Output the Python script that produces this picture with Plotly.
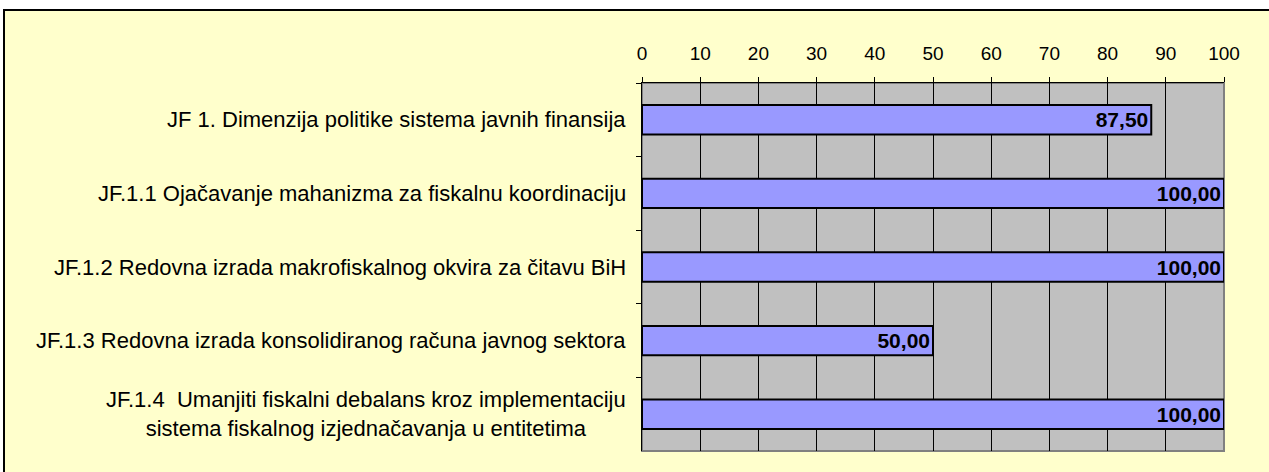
import plotly.graph_objects as go

categories = [
    "JF 1. Dimenzija politike sistema javnih finansija",
    "JF.1.1 Ojačavanje mahanizma za fiskalnu koordinaciju",
    "JF.1.2 Redovna izrada makrofiskalnog okvira za čitavu BiH",
    "JF.1.3 Redovna izrada konsolidiranog računa javnog sektora",
    "JF.1.4  Umanjiti fiskalni debalans kroz implementaciju<br>sistema fiskalnog izjednačavanja u entitetima",
]
values = [87.5, 100.0, 100.0, 50.0, 100.0]
x_ticks = [0, 10, 20, 30, 40, 50, 60, 70, 80, 90, 100]

W, H = 1269, 472
L, R, T, B = 642, 45, 83, 21
pw, ph = W - L - R, H - T - B
FONT = "Liberation Sans, Arial, sans-serif"

def px_x(px):
    return (px - L) / pw

def px_y(py):
    return (H - B - py) / ph

fig = go.Figure()
fig.add_trace(go.Bar(
    y=categories, x=values, orientation="h",
    marker=dict(color="#9999FF", line=dict(color="black", width=2)),
    width=0.4,
    texttemplate="<b>%{x:.2f}</b>",
    textposition="inside", insidetextanchor="end",
    textfont=dict(family=FONT, size=21, color="black"),
    hoverinfo="skip",
))

shapes = [
    dict(type="rect", xref="paper", yref="paper", layer="below",
         x0=px_x(4), x1=px_x(1290), y0=px_y(500), y1=px_y(10),
         fillcolor="#FFFFCC", line=dict(color="black", width=2)),
    dict(type="rect", xref="paper", yref="paper", layer="below",
         x0=0, x1=1, y0=0, y1=1,
         fillcolor="#C0C0C0", line=dict(color="#808080", width=2)),
]

annotations = []
for c in categories:
    annotations.append(dict(
        x=0, xref="paper", y=c, yref="y", xanchor="right", xshift=-14,
        text=c, showarrow=False, align="center",
        font=dict(family=FONT, size=22, color="black"),
    ))

fig.update_layout(
    width=W, height=H,
    margin=dict(l=L, r=R, t=T, b=B, pad=0),
    paper_bgcolor="white", plot_bgcolor="rgba(0,0,0,0)",
    separators=",.",
    showlegend=False,
    shapes=shapes, annotations=annotations,
    xaxis=dict(
        side="top", range=[0, 100], tickvals=x_ticks,
        showgrid=True, gridcolor="black", gridwidth=1,
        showline=True, linecolor="black", linewidth=1,
        ticks="outside", ticklen=5, tickcolor="black",
        ticklabelstandoff=9,
        tickfont=dict(family=FONT, size=19, color="black"),
        zeroline=False, fixedrange=True,
    ),
    yaxis=dict(
        autorange="reversed", type="category",
        showticklabels=False, tickson="boundaries",
        ticks="outside", ticklen=5, tickcolor="black",
        showline=True, linecolor="black", linewidth=1,
        showgrid=False, zeroline=False, fixedrange=True,
    ),
)

fig.write_html("out.html", post_script="document.body.style.margin='0';",
               config={"displayModeBar": False})
